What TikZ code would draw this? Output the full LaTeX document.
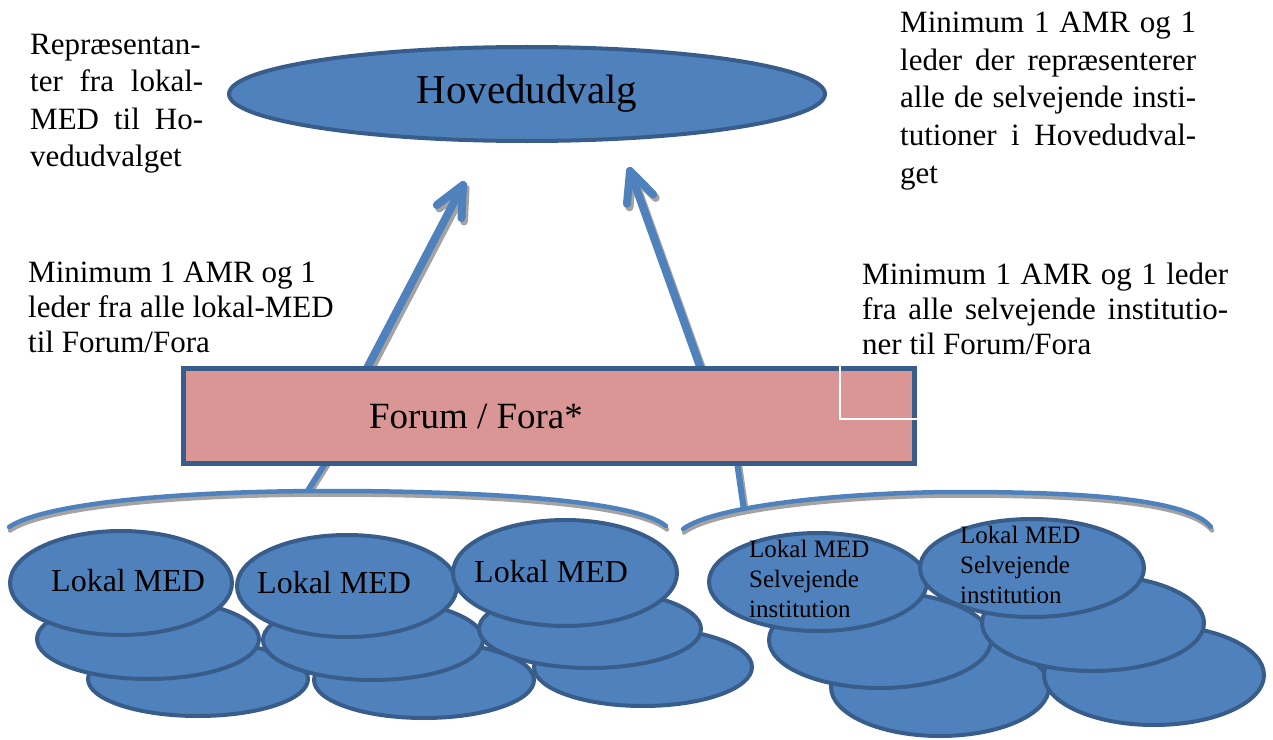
\documentclass[tikz,border=0pt]{standalone}
\usepackage{fontspec}
\setmainfont{Liberation Serif}
\usetikzlibrary{shapes.geometric,calc}
\definecolor{fillblue}{HTML}{4F81BD}
\definecolor{edgeblue}{HTML}{385D8A}
\definecolor{forumpink}{HTML}{D99694}
\definecolor{shadowgray}{HTML}{A3A3A3}
\newcommand\jline[2]{\makebox[#1bp][s]{#2}}
\begin{document}
\begin{tikzpicture}[x=1bp,y=-1bp,
  blob/.style={ellipse, draw=edgeblue, fill=fillblue, line width=4bp, inner sep=0pt},
  forumbox/.style={rectangle, draw=edgeblue, fill=forumpink, line width=5bp, inner sep=0pt},
  desc/.style={inner sep=0pt, anchor=base west},
  fatline/.style={line width=8bp, draw=fillblue, line cap=round, line join=round},
  fatshadow/.style={line width=8bp, draw=shadowgray, line cap=round, line join=round, transform canvas={shift={(2.5bp,-3.5bp)}}},
  bracket/.style={line width=4.5bp, draw=fillblue, line cap=round},
  bracketshadow/.style={line width=4.5bp, draw=shadowgray, line cap=round, transform canvas={shift={(1bp,-3.5bp)}}},
  conn/.style={line width=6bp, draw=fillblue},
  connshadow/.style={line width=6bp, draw=shadowgray, transform canvas={shift={(2bp,-2bp)}}},
]
\useasboundingbox (0,0) rectangle (1273,740);

% Top ellipse
\node[blob, minimum width=596bp, minimum height=94bp, font=\fontsize{41bp}{48bp}\selectfont] (hoved) at (527,94) {Hovedudvalg};

% arrows
\coordinate (a1s) at (365,372);
\coordinate (a1t) at (463,185);
\coordinate (a2s) at (702,372);
\coordinate (a2t) at (630,171);
\foreach \st in {fatshadow,fatline}{
  \draw[\st] (a1s) -- (a1t);
  \draw[\st] ($(a1t)!33bp!25:(a1s)$) -- (a1t) -- ($(a1t)!33bp!-25:(a1s)$);
  \draw[\st] (a2s) -- (a2t);
  \draw[\st] ($(a2t)!33bp!25:(a2s)$) -- (a2t) -- ($(a2t)!33bp!-25:(a2s)$);
}

% brackets
\coordinate (lb1) at (9,527);
\coordinate (lbm) at (330,491);
\coordinate (lb2) at (666,526);
\coordinate (rb1) at (683,529);
\coordinate (rbm) at (960,492);
\coordinate (rb2) at (1211,527);
\coordinate (lcs) at (326,462);
\coordinate (rcs) at (737,462);
\path (lb1) .. controls (45,503) and (180,491) .. coordinate[pos=0.95] (lbc) (lbm);
\path (rb1) .. controls (715,505) and (850,492) .. coordinate[pos=0.33] (rbc) (rbm);
\foreach \bs/\cs in {bracketshadow/connshadow,bracket/conn}{
  \draw[\cs] (lcs) -- (lbc);
  \draw[\cs] (rcs) -- (rbc);
  \draw[\bs] (lb1) .. controls (45,503) and (180,491) .. (lbm) .. controls (480,491) and (635,500) .. (lb2);
  \draw[\bs] (rb1) .. controls (715,505) and (850,492) .. (rbm) .. controls (1090,492) and (1190,500) .. (rb2);
}

% Forum box
\node[forumbox, minimum width=730bp, minimum height=95bp] (forum) at (549,415.5) {};
\node[inner sep=0pt, anchor=base, font=\fontsize{37bp}{44bp}\selectfont] (forumtxt) at (476,428) {Forum / Fora*};
\draw[white, line width=1.5bp] (840,365.5) |- (916.5,419);

% left group of ellipses
\node[blob, minimum width=220bp, minimum height=74bp] (e1b) at (198,679) {};
\node[blob, minimum width=220bp, minimum height=76bp] (e2b) at (424,680) {};
\node[blob, minimum width=218bp, minimum height=78bp] (e3b) at (643,667) {};
\node[blob, minimum width=222bp, minimum height=80bp] (e1m) at (148,639) {};
\node[blob, minimum width=220bp, minimum height=80bp] (e2m) at (373,640) {};
\node[blob, minimum width=222bp, minimum height=78bp] (e3m) at (590,629) {};
\node[blob, minimum width=222bp, minimum height=104bp] (e1) at (121,583) {};
\node[blob, minimum width=220bp, minimum height=102bp] (e2) at (347,586) {};
\node[blob, minimum width=224bp, minimum height=106bp] (e3) at (565,573) {};

% right group of ellipses
\node[blob, minimum width=218bp, minimum height=98bp] (r1b) at (940,687) {};
\node[blob, minimum width=220bp, minimum height=100bp] (r2b) at (1154,675) {};
\node[blob, minimum width=222bp, minimum height=96bp] (r1m) at (880,640) {};
\node[blob, minimum width=222bp, minimum height=96bp] (r2m) at (1093,623) {};
\node[blob, minimum width=218bp, minimum height=98bp] (r1) at (818,582) {};
\node[blob, minimum width=224bp, minimum height=98bp] (r2) at (1032,568) {};

% ellipse texts
\node[desc, font=\fontsize{32bp}{38bp}\selectfont] (e1t) at (51,591) {Lokal MED};
\node[desc, font=\fontsize{32bp}{38bp}\selectfont] (e2t) at (257,593) {Lokal MED};
\node[desc, font=\fontsize{32bp}{38bp}\selectfont] (e3t) at (474,582) {Lokal MED};
\node[desc, font=\fontsize{25bp}{30bp}\selectfont] (r1t) at (749,557) {\begin{tabular}[t]{@{}l@{}}Lokal MED\\ Selvejende\\ institution\end{tabular}};
\node[desc, font=\fontsize{25bp}{30bp}\selectfont] (r2t) at (960,543) {\begin{tabular}[t]{@{}l@{}}Lokal MED\\ Selvejende\\ institution\end{tabular}};

% descriptive texts
\node[desc, font=\fontsize{31bp}{37bp}\selectfont] (tl) at (30,55) {\begin{tabular}[t]{@{}l@{}}\jline{173}{Repræsentan-}\\ \jline{173}{ter fra lokal-}\\ \jline{173}{MED til Ho-}\\ vedudvalget\end{tabular}};
\node[desc, font=\fontsize{31bp}{37.5bp}\selectfont] (tr) at (900,33) {\begin{tabular}[t]{@{}l@{}}\jline{296}{Minimum 1 AMR og 1}\\ \jline{296}{leder der repræsenterer}\\ \jline{296}{alle de selvejende insti-}\\ \jline{296}{tutioner i Hovedudval-}\\ get\end{tabular}};
\node[desc, font=\fontsize{31bp}{35bp}\selectfont] (ml) at (28,282) {\begin{tabular}[t]{@{}l@{}}Minimum 1 AMR og 1\\ leder fra alle lokal-MED\\ til Forum/Fora\end{tabular}};
\node[desc, font=\fontsize{31bp}{35bp}\selectfont] (mr) at (862,284) {\begin{tabular}[t]{@{}l@{}}\jline{366}{Minimum 1 AMR og 1 leder}\\ \jline{366}{fra alle selvejende institutio-}\\ ner til Forum/Fora\end{tabular}};
\end{tikzpicture}
\end{document}
